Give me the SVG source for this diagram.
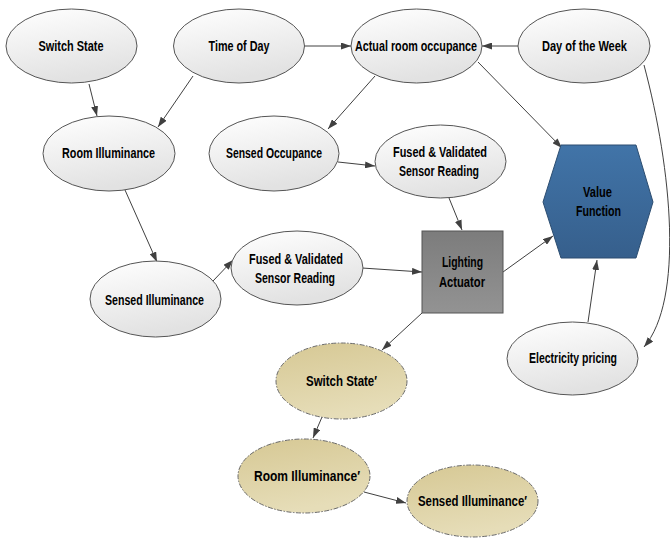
<svg xmlns="http://www.w3.org/2000/svg" width="670" height="538" viewBox="0 0 670 538">
<defs>
<linearGradient id="gEll" x1="0" y1="0" x2="0.3" y2="1">
<stop offset="0" stop-color="#ffffff"/>
<stop offset="1" stop-color="#e2e2e2"/>
</linearGradient>
<linearGradient id="gTan" x1="0" y1="0" x2="0.3" y2="1">
<stop offset="0" stop-color="#d6c894"/>
<stop offset="1" stop-color="#e6ddb8"/>
</linearGradient>
<linearGradient id="gHex" x1="0" y1="0" x2="0" y2="1">
<stop offset="0" stop-color="#4174a8"/>
<stop offset="1" stop-color="#365f8c"/>
</linearGradient>
<linearGradient id="gBox" x1="0" y1="0" x2="0" y2="1">
<stop offset="0" stop-color="#7c7c7c"/>
<stop offset="1" stop-color="#939393"/>
</linearGradient>
<marker id="arr" viewBox="0 0 10 7" markerWidth="10" markerHeight="7" refX="10" refY="3.5" orient="auto" markerUnits="userSpaceOnUse">
<path d="M0,0 L10,3.5 L0,7 z" fill="#404040"/>
</marker>
</defs>
<style>
.ell{fill:url(#gEll);stroke:#555;stroke-width:1}
.tan{fill:url(#gTan);stroke:#6a6a6a;stroke-width:1;stroke-dasharray:5 1.5 1.5 1.5}
.lbl{font-family:"Liberation Sans",Arial,sans-serif;font-weight:bold;font-size:14.5px;fill:#000;text-anchor:middle}
.edge{fill:none;stroke:#404040;stroke-width:1;marker-end:url(#arr)}
</style>
<rect width="670" height="538" fill="#ffffff"/>

<g id="connectors">
<line class="edge" x1="89" y1="84" x2="97" y2="116"/>
<line class="edge" x1="193" y1="76" x2="158" y2="127"/>
<line class="edge" x1="304" y1="46" x2="351" y2="46"/>
<line class="edge" x1="518" y1="46" x2="482" y2="46"/>
<line class="edge" x1="375" y1="76" x2="328" y2="129"/>
<line class="edge" x1="478" y1="62" x2="562" y2="148"/>
<path class="edge" d="M644,65 C672,170 684,300 644,347"/>
<line class="edge" x1="338" y1="162" x2="375" y2="166"/>
<line class="edge" x1="449" y1="198" x2="462" y2="230"/>
<line class="edge" x1="362" y1="268" x2="422" y2="272"/>
<line class="edge" x1="503" y1="272" x2="553" y2="236"/>
<line class="edge" x1="588" y1="322" x2="597" y2="260"/>
<line class="edge" x1="422" y1="313" x2="382" y2="350"/>
<line class="edge" x1="125" y1="190" x2="157" y2="262"/>
<line class="edge" x1="213" y1="281" x2="233" y2="260"/>
<line class="edge" x1="322" y1="417" x2="313" y2="438"/>
<line class="edge" x1="364" y1="492" x2="406" y2="503"/>
</g>

<g id="switch-state">
<ellipse class="ell" cx="71.5" cy="46" rx="65.5" ry="37"/>
<text class="lbl" x="71" y="51" textLength="65" lengthAdjust="spacingAndGlyphs">Switch State</text>
</g>
<g id="time-of-day">
<ellipse class="ell" cx="239" cy="46" rx="65.5" ry="37"/>
<text class="lbl" x="239" y="51" textLength="61" lengthAdjust="spacingAndGlyphs">Time of Day</text>
</g>
<g id="actual-room-occupance">
<ellipse class="ell" cx="416.5" cy="46" rx="65.5" ry="37"/>
<text class="lbl" x="416" y="51" textLength="122" lengthAdjust="spacingAndGlyphs">Actual room occupance</text>
</g>
<g id="day-of-the-week">
<ellipse class="ell" cx="584" cy="46" rx="66" ry="37"/>
<text class="lbl" x="584.5" y="51" textLength="85" lengthAdjust="spacingAndGlyphs">Day of the Week</text>
</g>
<g id="room-illuminance">
<ellipse class="ell" cx="109" cy="153.5" rx="66" ry="37.5"/>
<text class="lbl" x="108.5" y="158" textLength="93" lengthAdjust="spacingAndGlyphs">Room Illuminance</text>
</g>
<g id="sensed-occupance">
<ellipse class="ell" cx="274" cy="153.5" rx="65" ry="37.5"/>
<text class="lbl" x="274" y="158" textLength="96" lengthAdjust="spacingAndGlyphs">Sensed Occupance</text>
</g>
<g id="fused-validated-1">
<ellipse class="ell" cx="440.5" cy="161.5" rx="65.5" ry="36.5"/>
<text class="lbl" x="440" y="157" textLength="94" lengthAdjust="spacingAndGlyphs">Fused &amp; Validated</text>
<text class="lbl" x="439" y="176" textLength="80" lengthAdjust="spacingAndGlyphs">Sensor Reading</text>
</g>
<g id="value-function">
<polygon points="561,145 636,145 653,202 636,258 561,258 543,202" fill="url(#gHex)" stroke="#2c4d70" stroke-width="1"/>
<text class="lbl" x="597.5" y="197" textLength="29" lengthAdjust="spacingAndGlyphs">Value</text>
<text class="lbl" x="598.5" y="216" textLength="45" lengthAdjust="spacingAndGlyphs">Function</text>
</g>
<g id="lighting-actuator">
<rect x="422" y="231" width="81" height="82" fill="url(#gBox)" stroke="#555" stroke-width="1"/>
<text class="lbl" x="462.5" y="267" textLength="41" lengthAdjust="spacingAndGlyphs">Lighting</text>
<text class="lbl" x="462" y="287" textLength="46" lengthAdjust="spacingAndGlyphs">Actuator</text>
</g>
<g id="fused-validated-2">
<ellipse class="ell" cx="297" cy="268" rx="66" ry="37"/>
<text class="lbl" x="296" y="264" textLength="94" lengthAdjust="spacingAndGlyphs">Fused &amp; Validated</text>
<text class="lbl" x="295" y="283" textLength="80" lengthAdjust="spacingAndGlyphs">Sensor Reading</text>
</g>
<g id="sensed-illuminance">
<ellipse class="ell" cx="155.5" cy="299" rx="65.5" ry="38"/>
<text class="lbl" x="154.5" y="305" textLength="99" lengthAdjust="spacingAndGlyphs">Sensed Illuminance</text>
</g>
<g id="electricity-pricing">
<ellipse class="ell" cx="572.5" cy="358.5" rx="65.5" ry="36.5"/>
<text class="lbl" x="573" y="363" textLength="88" lengthAdjust="spacingAndGlyphs">Electricity pricing</text>
</g>
<g id="switch-state-prime">
<ellipse class="tan" cx="341.5" cy="381" rx="65.5" ry="38"/>
<text class="lbl" x="341.5" y="386" textLength="71" lengthAdjust="spacingAndGlyphs">Switch State′</text>
</g>
<g id="room-illuminance-prime">
<ellipse class="tan" cx="304" cy="476" rx="66" ry="37"/>
<text class="lbl" x="307" y="481" textLength="106" lengthAdjust="spacingAndGlyphs">Room Illuminance′</text>
</g>
<g id="sensed-illuminance-prime">
<ellipse class="tan" cx="472.5" cy="501" rx="65.5" ry="36"/>
<text class="lbl" x="472.5" y="506" textLength="109" lengthAdjust="spacingAndGlyphs">Sensed Illuminance′</text>
</g>
</svg>
